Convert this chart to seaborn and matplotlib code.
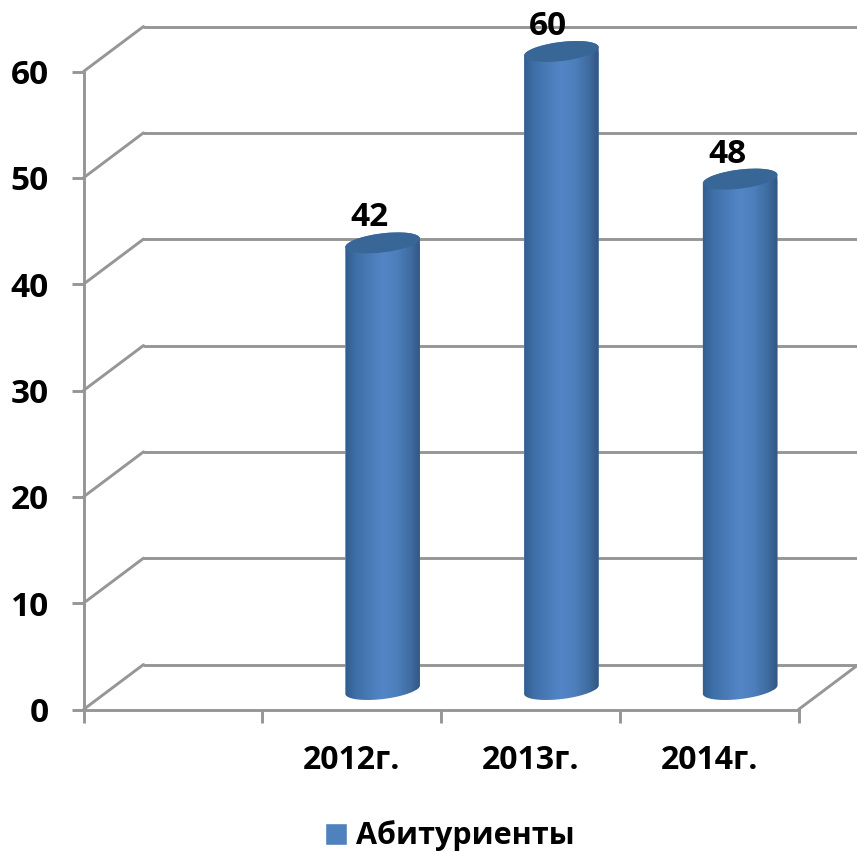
import numpy as np
import pandas as pd
import matplotlib
matplotlib.use("Agg")
import matplotlib.pyplot as plt
import matplotlib.colors as mcolors
from matplotlib.patches import Ellipse, PathPatch
from matplotlib.path import Path
from matplotlib.transforms import Affine2D, IdentityTransform
import seaborn as sns

categories = ["", "2012г.", "2013г.", "2014г."]
years = ["2012г.", "2013г.", "2014г."]
values = [42, 60, 48]
series = "Абитуриенты"
y_ticks = [0, 10, 20, 30, 40, 50, 60]

W, H = 857, 852
GRID = "#969696"
DEPTH = (60, 45)  # back wall offset in px
BAR_SHIFT = (31, 20)  # bars stand in the middle of the floor

sns.set_style("white")
plt.rcParams["font.family"] = ["Open Sans", "DejaVu Sans"]
plt.rcParams["font.weight"] = "bold"
plt.rcParams["font.size"] = 23
plt.rcParams["text.color"] = "black"

fig = plt.figure(figsize=(W / 100, H / 100), dpi=100)
rect = [83.5 / W, (H - 709.5) / H, 715 / W, 638 / H]
ax = fig.add_axes(rect)
ax.set_xlim(-0.5, 3.5)
ax.set_ylim(0, 60)
for side in ["top", "right"]:
    ax.spines[side].set_visible(False)
for side in ["left", "bottom"]:
    ax.spines[side].set_color(GRID)
    ax.spines[side].set_linewidth(2.1)

ax.set_yticks(y_ticks)
ax.set_xticks(np.arange(-0.5, 4, 1))
ax.set_xticklabels([])
ax.set_xticks(range(4), labels=categories, minor=True)
ax.tick_params(axis="y", which="major", left=True, length=9, width=2.1, color=GRID, pad=16,
               labelcolor="black", labelsize=24)
ax.tick_params(axis="x", which="major", bottom=True, length=9, width=2.1, color=GRID)
ax.tick_params(axis="x", which="minor", bottom=False, length=0, pad=25, labelcolor="black")

# side wall and back wall lines, in pixels from the front axis
shift = Affine2D().translate(*DEPTH)
back = ax.transData + shift
for t in y_ticks:
    ax.plot([-0.5, 3.5 + 8], [t, t], color=GRID, lw=2.1, transform=back, clip_on=False, zorder=1)
    x0, y0 = ax.transData.transform((-0.5, t))
    ax.plot([x0, x0 + DEPTH[0]], [y0, y0 + DEPTH[1]], color=GRID, lw=2.1,
            transform=IdentityTransform(), clip_on=False, zorder=1)
x1, y1 = ax.transData.transform((3.5, 0))
ax.plot([x1, x1 + DEPTH[0]], [y1, y1 + DEPTH[1]], color=GRID, lw=2.1,
        transform=IdentityTransform(), clip_on=False, zorder=1)

# bars go on their own axes, same scale but shifted into the floor
bar_ax = fig.add_axes([rect[0] + BAR_SHIFT[0] / W, rect[1] + BAR_SHIFT[1] / H, rect[2], rect[3]])
bar_ax.patch.set_alpha(0)
df = pd.DataFrame({"year": years, "value": values, "series": series})
sns.barplot(data=df, x="year", y="value", hue="series", order=categories, ax=bar_ax,
            palette=["#4f81bd"], width=0.42, dodge=False, saturation=1, legend=True)
bar_ax.set_xlim(-0.5, 3.5)
bar_ax.set_ylim(0, 60)

body_cmap = mcolors.LinearSegmentedColormap.from_list(
    "cyl", ["#2d5786", "#3f6fa8", "#4a7bb8", "#5486c7", "#4d7fbc", "#3f6b9f", "#2c4d74"])
grad = np.linspace(0, 1, 256).reshape(1, -1)
ANGLE = np.radians(7)
EH = 9.5


def ellipse_points(cx, cy, half_w, t):
    ex, ey = half_w * np.cos(t), EH * np.sin(t)
    return (cx + ex * np.cos(ANGLE) - ey * np.sin(ANGLE),
            cy + ex * np.sin(ANGLE) + ey * np.cos(ANGLE))


for bar, val in zip([p for p in bar_ax.patches if p.get_height() > 0], values):
    x = bar.get_x() + bar.get_width() / 2
    (xl, y0), (xr, ytop) = bar_ax.transData.transform([(bar.get_x(), 0), (bar.get_x() + bar.get_width(), val)])
    cx, half_w = (xl + xr) / 2, (xr - xl) / 2
    low = ellipse_points(cx, y0, half_w, np.linspace(np.pi, 2 * np.pi, 40))
    up = ellipse_points(cx, ytop, half_w, np.linspace(0, np.pi, 40))
    verts = np.column_stack([np.r_[low[0], up[0]], np.r_[low[1], up[1]]])
    clip = PathPatch(Path(np.vstack([verts, verts[:1]]), closed=True), transform=IdentityTransform())
    bar.set_clip_path(clip)
    im = bar_ax.imshow(grad, cmap=body_cmap, aspect="auto", zorder=3,
                       extent=[bar.get_x() - 0.02, bar.get_x() + bar.get_width() + 0.02, -5, val + 5])
    # images stop at the axes box unless the clip box is widened
    im.set_clip_box(fig.bbox)
    im.set_clip_path(clip)
    bar_ax.add_patch(Ellipse((cx, ytop), 2 * half_w, 2 * EH, angle=7, facecolor="#386797",
                             edgecolor="none", transform=IdentityTransform(), zorder=4, clip_on=False))
    bar_ax.annotate(str(val), (x, val), xytext=(-13, 25), textcoords="offset pixels",
                    ha="center", va="center", fontsize=24, fontweight="bold", color="black",
                    annotation_clip=False, zorder=5)

bar_ax.set_xlim(-0.5, 3.5)
bar_ax.set_ylim(0, 60)
bar_ax.axis("off")

sns.move_legend(bar_ax, "center", bbox_to_anchor=(449.5 / W, (H - 836) / H),
                bbox_transform=fig.transFigure, title=None, frameon=False,
                handlelength=0.72, handleheight=0.72, handletextpad=0.3,
                labelcolor="black", prop={"weight": "bold", "size": 22})

fig.savefig("out.png", dpi=100)
